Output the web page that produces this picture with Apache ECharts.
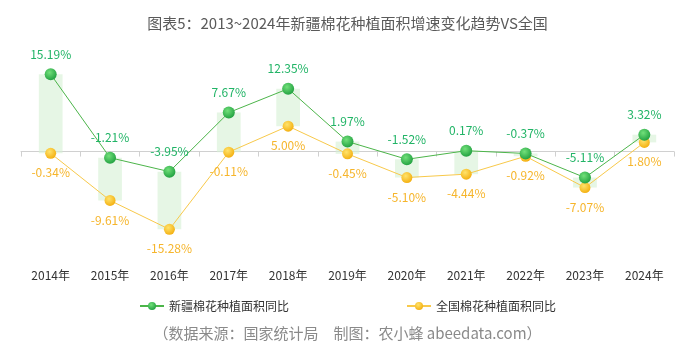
<!DOCTYPE html>
<html><head><meta charset="utf-8">
<script src="https://cdn.jsdelivr.net/npm/echarts@6/dist/echarts.min.js"></script>
<style>html,body{margin:0;padding:0;background:#fff}#c{width:695px;height:356px}</style>
</head><body><div id="c"></div>
<script>
const categories = ['2014年','2015年','2016年','2017年','2018年','2019年','2020年','2021年','2022年','2023年','2024年'];
const xinjiang = [15.19, -1.21, -3.95, 7.67, 12.35, 1.97, -1.52, 0.17, -0.37, -5.11, 3.32];
const national = [-0.34, -9.61, -15.28, -0.11, 5.00, -0.45, -5.10, -4.44, -0.92, -7.07, 1.80];
const seriesNames = ['新疆棉花种植面积同比', '全国棉花种植面积同比'];
const titleText = '图表5：2013~2024年新疆棉花种植面积增速变化趋势VS全国';
const sourceText = '（数据来源：国家统计局　制图：农小蜂 abeedata.com）';

const FONT = '"Noto Sans CJK SC", "Noto Sans", sans-serif';
const chart = echarts.init(document.getElementById('c'));
const rangeData = categories.map((c, i) => [i, xinjiang[i], national[i]]);
const fmt = p => (typeof p.value === 'number' ? p.value : p.value[1]).toFixed(2) + '%';

chart.setOption({
  backgroundColor: '#fff',
  textStyle: { fontFamily: FONT },
  title: { text: titleText, left: 'center', top: 11,
    textStyle: { fontSize: 15, fontWeight: 'normal', color: '#5a5a5a', fontFamily: FONT } },
  graphic: [{ type: 'text', left: 'center', top: 326,
    style: { text: sourceText, fontSize: 15, fill: '#8a8a8a', fontFamily: FONT } }],
  legend: { bottom: 39, left: 'center', itemGap: 117, itemWidth: 24, itemHeight: 10,
    textStyle: { fontSize: 12, color: '#333', fontFamily: FONT },
    data: seriesNames },
  grid: { left: 21, right: 21, top: 60, height: 203.5 },
  xAxis: [
    { type: 'category', data: categories, boundaryGap: true,
      axisLine: { onZero: true, lineStyle: { color: '#d0d0d0' } },
      axisTick: { show: true, length: 5, lineStyle: { color: '#d0d0d0' } },
      axisLabel: { show: false } },
    { type: 'category', data: categories, position: 'bottom', boundaryGap: true,
      axisLine: { show: false, onZero: false }, axisTick: { show: false },
      axisLabel: { margin: 6, fontSize: 12, color: '#333', fontFamily: FONT } }
  ],
  yAxis: { type: 'value', min: -22, max: 18, show: false, splitLine: { show: false } },
  series: [
    { type: 'custom', name: 'range', xAxisIndex: 0, z: 1, silent: true,
      data: rangeData,
      encode: { x: 0, y: [1, 2] },
      renderItem: (params, api) => {
        const i = api.value(0);
        const a = api.coord([i, api.value(1)]);
        const b = api.coord([i, api.value(2)]);
        const w = api.size([1, 0])[0] * 0.4;
        return { type: 'rect',
          shape: { x: a[0] - w / 2, y: Math.min(a[1], b[1]), width: w, height: Math.abs(a[1] - b[1]) },
          style: { fill: 'rgba(214,240,212,0.6)' } };
      } },
    { type: 'line', name: seriesNames[0], data: xinjiang, z: 4,
      symbol: 'circle', symbolSize: 12,
      lineStyle: { color: '#4cb54a', width: 1 },
      itemStyle: { color: new echarts.graphic.RadialGradient(0.4, 0.35, 0.7, [
        { offset: 0, color: '#72e07a' }, { offset: 1, color: '#1e9e3e' }]) },
      label: { show: true, position: 'top', distance: 8, fontSize: 12, color: '#21b466', formatter: fmt, fontFamily: FONT } },
    { type: 'line', name: seriesNames[1], data: national, z: 3,
      symbol: 'circle', symbolSize: 11,
      lineStyle: { color: '#f8c94a', width: 1 },
      itemStyle: { color: new echarts.graphic.RadialGradient(0.4, 0.35, 0.7, [
        { offset: 0, color: '#ffe36b' }, { offset: 1, color: '#f3ad0c' }]) },
      label: { show: true, position: 'bottom', distance: 8, fontSize: 12, color: '#f6b52b', formatter: fmt, fontFamily: FONT } }
  ]
});
</script></body></html>
